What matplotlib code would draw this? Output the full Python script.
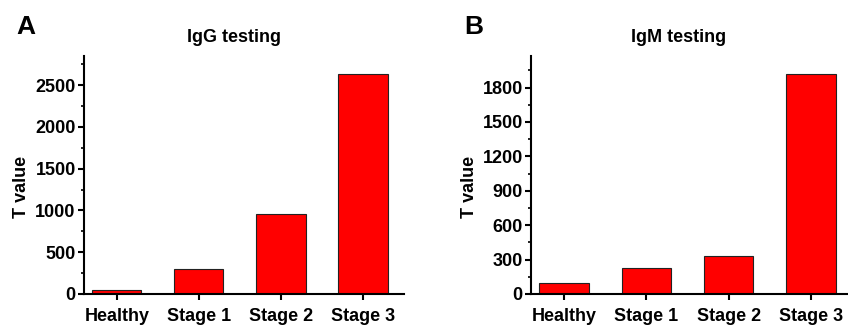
import matplotlib.pyplot as plt
from matplotlib.ticker import MultipleLocator

plt.rcParams['font.family'] = ['Liberation Sans', 'DejaVu Sans']
plt.rcParams['font.weight'] = 'bold'

categories = ["Healthy", "Stage 1", "Stage 2", "Stage 3"]
igg_values = [50, 300, 955, 2630]
igm_values = [100, 225, 335, 1915]

fig = plt.figure(figsize=(8.48, 3.28), dpi=100)
axA = fig.add_axes([84/848, 1-294/328, 320/848, 238/328])
axB = fig.add_axes([531/848, 1-294/328, 317/848, 238/328])


def style(ax, values, title, ymax, major, minor, xmax, title_x):
    x = range(len(categories))
    ax.bar(x, values, width=0.6, color="#ff0000", edgecolor="#222222", linewidth=0.8)
    ax.set_xlim(-0.4, xmax)
    ax.set_ylim(0, ymax)
    ax.yaxis.set_major_locator(MultipleLocator(major))
    ax.yaxis.set_minor_locator(MultipleLocator(minor))
    ax.set_xticks(list(x))
    ax.set_xticklabels(categories, fontsize=13, fontweight="bold")
    for lab in ax.get_yticklabels():
        lab.set_fontweight("bold")
    ax.tick_params(axis="y", labelsize=13, width=1.5, length=4, pad=2)
    ax.tick_params(axis="y", which="minor", width=1.2, length=2.5)
    ax.tick_params(axis="x", width=1.5, length=4, pad=6)
    ax.spines["top"].set_visible(False)
    ax.spines["right"].set_visible(False)
    ax.spines["left"].set_linewidth(1.5)
    ax.spines["bottom"].set_linewidth(1.5)
    ax.set_ylabel("T value", fontsize=13, fontweight="bold")
    ax.yaxis.set_label_coords(-54/320, 0.45)
    ax.set_title(title, fontsize=13, fontweight="bold", x=title_x, pad=10)


style(axA, igg_values, "IgG testing", 2850, 500, 250, 3.5, 0.47)
style(axB, igm_values, "IgM testing", 2075, 300, 150, 3.45, 0.465)

fig.text(26/848, 1-27/328, "A", fontsize=19, fontweight="bold", va="center", ha="center")
fig.text(474/848, 1-27/328, "B", fontsize=19, fontweight="bold", va="center", ha="center")

fig.savefig("out.png", dpi=100)
